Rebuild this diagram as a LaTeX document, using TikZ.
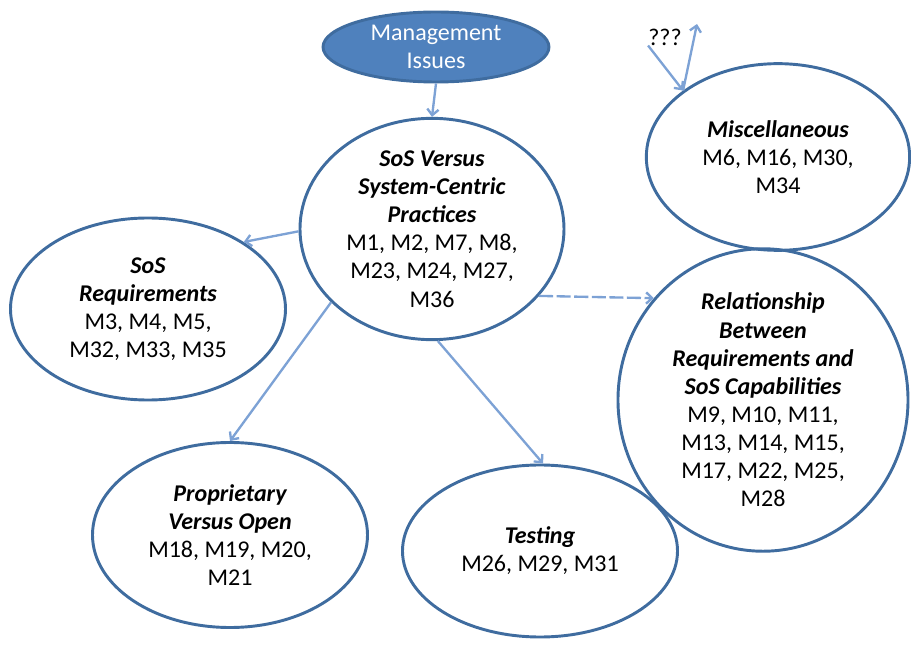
\documentclass[tikz,border=0pt]{standalone}
\usepackage{fontspec}
\setmainfont{Carlito}
\usetikzlibrary{shapes.geometric,arrows.meta}
\definecolor{mgfill}{HTML}{4F81BD}
\definecolor{rimblue}{HTML}{3F6C9F}
\definecolor{linkblue}{HTML}{7DA2D5}
\tikzset{
  topic/.style={ellipse, draw=rimblue, line width=2.5pt, inner sep=0pt, align=center,
    font=\fontsize{20.5}{24}\selectfont},
  link/.style={-{Straight Barb[length=1.8mm,width=3.4mm]}, linkblue, line width=2pt},
}
\newcommand{\ttl}[1]{{\bfseries\itshape #1}}

\begin{document}
\begin{tikzpicture}[x=0.03cm, y=-0.03cm]
    \useasboundingbox (0,0) rectangle (911,652);

    % topics
    \node [topic, fill=mgfill, text=white, minimum width=6.78cm, minimum height=2.1cm] (mgmt) at (436,47) {Management\\Issues};
    \node [topic, minimum width=7.92cm, minimum height=5.58cm] (central) at (432,229)
        {\ttl{SoS Versus}\\\ttl{System-Centric}\\\ttl{Practices}\\M1, M2, M7, M8,\\M23, M24, M27,\\M36};
    \node [topic, minimum width=7.9cm, minimum height=5.6cm] (misc) at (778,157)
        {\ttl{Miscellaneous}\\M6, M16, M30,\\M34};
    \node [topic, minimum width=8.25cm, minimum height=5.46cm] (sosreq) at (148,309)
        {\ttl{SoS}\\\ttl{Requirements}\\M3, M4, M5,\\M32, M33, M35};
    \node [topic, minimum width=8.7cm, minimum height=7.38cm] (relation) at (763,400)
        {\ttl{Relationship}\\\ttl{Between}\\\ttl{Requirements and}\\\ttl{SoS Capabilities}\\M9, M10, M11,\\M13, M14, M15,\\M17, M22, M25,\\M28};
    \node [topic, minimum width=8.25cm, minimum height=5.55cm] (propr) at (230,535)
        {\ttl{Proprietary}\\\ttl{Versus Open}\\M18, M19, M20,\\M21};
    \node [topic, minimum width=8.25cm, minimum height=5.16cm] (testing) at (540,551)
        {\ttl{Testing}\\M26, M29, M31};
    \node [font=\fontsize{20.5}{24}\selectfont, inner sep=0pt] (qq) at (665,37) {???};
    \coordinate (up) at (697,24);

    % links
    \draw [link] (mgmt.south) -- (central.north);
    \draw [link] (central.181) -- (sosreq.35);
    \draw [link] (central.216) -- (propr.90);
    \draw [link] (central.273) -- (testing.88);
    \draw [link, dash pattern=on 12pt off 3pt] (central.328) -- (relation.137);
    \draw [link] (qq.south west) -- (misc.145);
    \draw [link] (misc.145) -- (up);
\end{tikzpicture}
\end{document}
